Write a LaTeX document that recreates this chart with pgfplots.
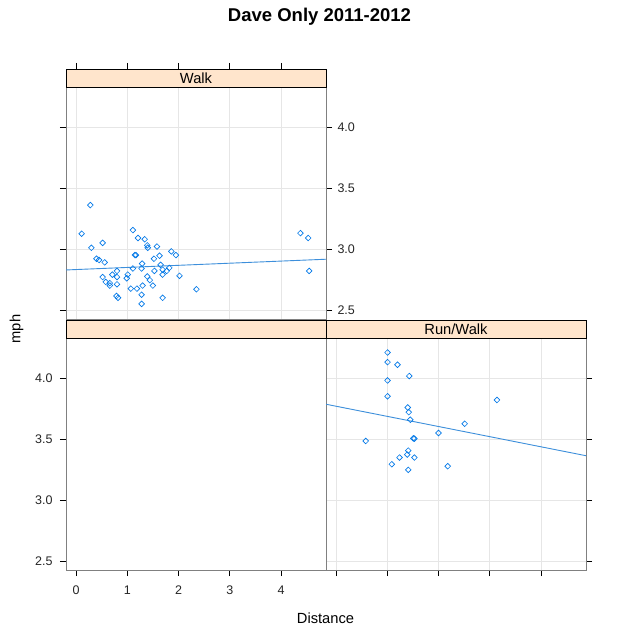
\documentclass[border=0pt]{standalone}
\usepackage{pgfplots}
\pgfplotsset{compat=1.18}
\usepackage{fontspec}
\setmainfont{Liberation Sans}
\definecolor{strip}{HTML}{FFE5CC}
\definecolor{pt}{HTML}{0078E8}
\definecolor{fitline}{HTML}{3D8FDB}
\definecolor{frame}{HTML}{808080}
\definecolor{gridc}{HTML}{E6E6E6}
\newcommand\ticksize{\fontsize{12.5}{14}\selectfont}
\newcommand\labsize{\fontsize{14.7}{17}\selectfont}
\pgfplotsset{
  panel/.style={scale only axis, width=260pt, height=232pt, anchor=south west,
    xmin=-0.195, xmax=4.878, ymin=2.426, ymax=4.328,
    xtick={0,1,2,3,4}, ytick={2.5,3,3.5,4},
    tick align=outside, major tick length=6pt,
    axis line style={draw=frame, line width=0.8pt},
    major tick style={black, line width=0.7pt},
    ticklabel style={font=\ticksize, text=black!85},
    /pgf/number format/assume math mode=true,
    yticklabel style={/pgf/number format/fixed, /pgf/number format/fixed zerofill, /pgf/number format/precision=1},
    xticklabel style={yshift=-6.5pt},
    major grid style={gridc, line width=0.8pt},
    clip=true,
  },
  stripax/.style={scale only axis, width=260pt, height=18pt, anchor=south west,
    xmin=-0.195, xmax=4.878, ymin=0, ymax=1, ytick=\empty,
    axis background/.style={fill=strip},
    axis line style={draw=black, line width=0.8pt},
    tick align=outside, major tick length=6pt,
    major tick style={black, line width=0.7pt},
  },
  pts/.style={only marks, mark=square, mark size=2pt,
    mark options={rotate=45, draw=pt, line width=0.65pt, fill=none}},
  fit/.style={no marks, fitline, line width=0.9pt},
}
\begin{document}
\begin{tikzpicture}[x=1pt,y=1pt]
\fill[white] (0,0) rectangle (640,638);
\useasboundingbox (0,0) rectangle (640,638);

% Top-left panel: Walk
\begin{axis}[panel, at={(66pt,319pt)}, grid=major,
  major x tick style={draw=none}, xticklabels={},
  ytick pos=both, yticklabel pos=right,
  yticklabel style={xshift=2pt}]
\addplot[pts] coordinates {
(0.11,3.125) (0.28,3.36) (0.30,3.01) (0.52,3.05) (0.40,2.92) (0.45,2.91)
(0.56,2.89) (0.52,2.77) (0.58,2.73) (0.66,2.72) (0.66,2.70) (0.71,2.79)
(0.80,2.82) (0.80,2.77) (0.80,2.71) (0.79,2.615) (0.82,2.60) (0.99,2.76)
(1.01,2.79) (1.07,2.675) (1.11,3.155) (1.11,2.84) (1.15,2.95) (1.17,2.95)
(1.19,2.675) (1.21,3.09) (1.29,2.88) (1.28,2.84) (1.30,2.70) (1.28,2.625)
(1.28,2.55) (1.34,3.08) (1.39,3.03) (1.40,3.01) (1.39,2.775) (1.44,2.745)
(1.50,2.70) (1.52,2.92) (1.53,2.82) (1.58,3.02) (1.63,2.945) (1.65,2.87)
(1.69,2.83) (1.69,2.79) (1.69,2.60) (1.77,2.82) (1.82,2.845) (1.86,2.98)
(1.95,2.95) (2.02,2.78) (2.35,2.67) (4.38,3.13) (4.53,3.09) (4.55,2.82)
};
\addplot[fit] coordinates {(-0.195,2.828) (4.878,2.916)};
\end{axis}
\begin{axis}[stripax, at={(66pt,551pt)}, xtick={0,1,2,3,4}, xtick pos=upper, xticklabels={}]
\node[font=\labsize] at (rel axis cs:0.5,0.5) {Walk};
\end{axis}

% Bottom-left panel (empty)
\begin{axis}[panel, at={(66pt,68pt)},
  xtick pos=lower, ytick pos=left,
  yticklabel style={xshift=-4pt}]
\end{axis}
\begin{axis}[stripax, at={(66pt,300pt)}, xtick=\empty]
\end{axis}

% Bottom-right panel: Run/Walk
\begin{axis}[panel, at={(326pt,68pt)}, grid=major,
  xtick pos=lower, xticklabels={}, ytick pos=right, yticklabels={}]
\addplot[pts] coordinates {
(1.006,4.209) (1.006,4.13) (1.20,4.109) (1.43,4.016) (1.006,3.98) (1.006,3.85)
(1.40,3.758) (1.42,3.72) (1.45,3.658) (2.51,3.625) (3.14,3.82) (2.00,3.549)
(1.51,3.505) (1.53,3.503) (0.58,3.484) (1.41,3.405) (1.39,3.372) (1.24,3.348)
(1.53,3.348) (1.09,3.293) (2.18,3.277) (1.41,3.247)
};
\addplot[fit] coordinates {(-0.195,3.785) (4.878,3.363)};
\end{axis}
\begin{axis}[stripax, at={(326pt,300pt)}, xtick=\empty]
\node[font=\labsize] at (rel axis cs:0.5,0.5) {Run/Walk};
\end{axis}

% Titles and labels
\node[anchor=base, font=\bfseries\fontsize{18.5}{22}\selectfont] at (319.5,616) {Dave Only 2011-2012};
\node[anchor=base, font=\labsize] at (325.5,14.7) {Distance};
\node[anchor=base, rotate=90, font=\labsize] at (20.5,309) {mph};
\end{tikzpicture}
\end{document}
